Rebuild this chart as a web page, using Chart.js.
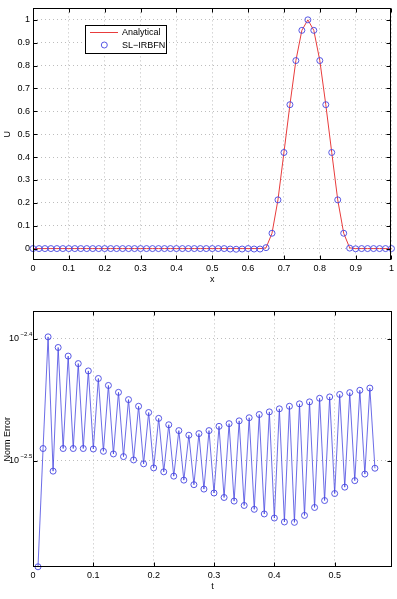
<!DOCTYPE html>
<html><head><meta charset="utf-8">
<script src="https://cdn.jsdelivr.net/npm/chart.js@4/dist/chart.umd.min.js"></script>
<style>
html,body{margin:0;padding:0;background:#fff;width:397px;height:599px;overflow:hidden}
#c1{position:absolute;left:0;top:0}
#c2{position:absolute;left:0;top:292px}
</style></head><body>
<canvas id="c1" width="397" height="292"></canvas>
<canvas id="c2" width="397" height="307"></canvas>
<script>
// ---------- top panel data ----------
const xValues = [0,0.0167,0.0333,0.05,0.0667,0.0833,0.1,0.1167,0.1333,0.15,0.1667,0.1833,0.2,0.2167,0.2333,0.25,0.2667,0.2833,0.3,0.3167,0.3333,0.35,0.3667,0.3833,0.4,0.4167,0.4333,0.45,0.4667,0.4833,0.5,0.5167,0.5333,0.55,0.5667,0.5833,0.6,0.6167,0.6333,0.65,0.6667,0.6833,0.7,0.7167,0.7333,0.75,0.7667,0.7833,0.8,0.8167,0.8333,0.85,0.8667,0.8833,0.9,0.9167,0.9333,0.95,0.9667,0.9833,1];
const analyticalU = [0,0,0,0,0,0,0,0,0,0,0,0,0,0,0,0,0,0,0,0,0,0,0,0,0,0,0,0,0,0,0,0,0,0,0,0,0,0,0,0.003,0.067,0.213,0.420,0.629,0.822,0.954,1.000,0.954,0.822,0.629,0.420,0.213,0.067,0.003,0,0,0,0,0,0,0];
const numericalU = [0,0,0,0,0,0,0,0,0,0,0,0,0,0,0,0,0,0,0,0,0,0,0,0,0,0,0,0,0,0,0,0,0,-0.002,-0.003,-0.002,0,-0.002,-0.002,0.004,0.067,0.213,0.420,0.629,0.822,0.954,1.000,0.954,0.822,0.629,0.420,0.213,0.067,0.002,-0.001,0,0,0,0,0,0];
const xTickValues = [0,0.1,0.2,0.3,0.4,0.5,0.6,0.7,0.8,0.9,1];
const xTickLabels = ['0','0.1','0.2','0.3','0.4','0.5','0.6','0.7','0.8','0.9','1'];
const uTickValues = [0,0.1,0.2,0.3,0.4,0.5,0.6,0.7,0.8,0.9,1];
const uTickLabels = ['0','0.1','0.2','0.3','0.4','0.5','0.6','0.7','0.8','0.9','1'];
const seriesNames = ['Analytical','SL\u2212IRBFN'];

// ---------- bottom panel data ----------
const tValues = [0.0083,0.0167,0.025,0.0333,0.0417,0.05,0.0583,0.0667,0.075,0.0833,0.0917,0.1,0.1083,0.1167,0.125,0.1333,0.1417,0.15,0.1583,0.1667,0.175,0.1833,0.1917,0.2,0.2083,0.2167,0.225,0.2333,0.2417,0.25,0.2583,0.2667,0.275,0.2833,0.2917,0.3,0.3083,0.3167,0.325,0.3333,0.3417,0.35,0.3583,0.3667,0.375,0.3833,0.3917,0.4,0.4083,0.4167,0.425,0.4333,0.4417,0.45,0.4583,0.4667,0.475,0.4833,0.4917,0.5,0.5083,0.5167,0.525,0.5333,0.5417,0.55,0.5583,0.5667];
const normError = [0.002591,0.003237,0.003994,0.003102,0.003915,0.003237,0.003852,0.003237,0.003798,0.003237,0.003746,0.003234,0.003693,0.003220,0.003645,0.003204,0.003598,0.003188,0.003549,0.003168,0.003505,0.003145,0.003464,0.003121,0.003426,0.003098,0.003385,0.003073,0.003348,0.003050,0.003319,0.003024,0.003329,0.002999,0.003348,0.002977,0.003375,0.002952,0.003392,0.002932,0.003410,0.002908,0.003430,0.002887,0.003451,0.002862,0.003468,0.002840,0.003488,0.002819,0.003505,0.002817,0.003521,0.002854,0.003534,0.002897,0.003558,0.002935,0.003567,0.002974,0.003584,0.003010,0.003596,0.003047,0.003612,0.003085,0.003627,0.003119];
const tTickValues = [0,0.1,0.2,0.3,0.4,0.5];
const tTickLabels = ['0','0.1','0.2','0.3','0.4','0.5'];
const errTickValues = [0.0031623,0.0039811];
const errTickBase = ['10','10'];
const errTickExponents = ['\u22122.5','\u22122.4'];

// ---------- styling ----------
const FONT = "'Liberation Sans', Arial, Helvetica, sans-serif";
Chart.defaults.font.family = FONT;
Chart.defaults.font.size = 9;
Chart.defaults.color = '#000';
const RED = 'rgb(232,60,60)';
const BLUE = 'rgb(70,70,225)';
const GRID = {color:'#bdbdbd', lineWidth:1, drawTicks:false};
const BORDER = {display:false, dash:[1,3]};

function fixTicks(values){ return function(scale){ scale.ticks = values.map(v=>({value:v})); }; }
function labelFrom(values, labels){ return function(v){ const i = values.indexOf(v); return i>=0 ? labels[i] : ''; }; }

const framePlugin = {
  id:'frame',
  afterDraw(chart){
    const {ctx, chartArea:a} = chart;
    const L = Math.round(a.left)+0.5, R = Math.round(a.right)-0.5, T = Math.round(a.top)+0.5, B = Math.round(a.bottom)-0.5;
    ctx.save();
    ctx.strokeStyle = '#000'; ctx.lineWidth = 1;
    ctx.strokeRect(L, T, R-L, B-T);
    const len = 4;
    ctx.beginPath();
    chart.scales.x.ticks.forEach(t=>{
      const p = Math.round(chart.scales.x.getPixelForValue(t.value))+0.5;
      ctx.moveTo(p,B); ctx.lineTo(p,B-len);
      ctx.moveTo(p,T); ctx.lineTo(p,T+len);
    });
    chart.scales.y.ticks.forEach(t=>{
      const p = Math.round(chart.scales.y.getPixelForValue(t.value))+0.5;
      ctx.moveTo(L,p); ctx.lineTo(L+len,p);
      ctx.moveTo(R,p); ctx.lineTo(R-len,p);
    });
    ctx.stroke();
    ctx.restore();
  }
};

const legendPlugin = {
  id:'boxLegend',
  afterDraw(chart){
    if(!chart.options.plugins.boxLegend) return;
    const ctx = chart.ctx;
    const ds = chart.data.datasets;
    ctx.save();
    ctx.fillStyle = '#fff'; ctx.strokeStyle = '#000'; ctx.lineWidth = 1;
    ctx.fillRect(85.5,25.5,81,28); ctx.strokeRect(85.5,25.5,81,28);
    ctx.strokeStyle = ds[0].borderColor; ctx.lineWidth = 1;
    ctx.beginPath(); ctx.moveTo(90,32.5); ctx.lineTo(118,32.5); ctx.stroke();
    ctx.strokeStyle = ds[1].pointBorderColor; ctx.lineWidth = 0.9;
    ctx.beginPath(); ctx.arc(104.3,45,3,0,Math.PI*2); ctx.stroke();
    ctx.fillStyle = '#000'; ctx.font = '9px ' + FONT; ctx.textBaseline = 'middle'; ctx.textAlign = 'left';
    ctx.fillText(ds[0].label, 122, 33);
    ctx.fillText(ds[1].label, 122, 45.5);
    ctx.restore();
  }
};

const expPlugin = {
  id:'expLabels',
  afterDraw(chart){
    if(!chart.options.plugins.expLabels) return;
    const ctx = chart.ctx, y = chart.scales.y;
    ctx.save();
    ctx.fillStyle = '#000'; ctx.font = '6px ' + FONT; ctx.textAlign = 'left'; ctx.textBaseline = 'middle';
    y.ticks.forEach(t=>{
      const i = errTickValues.indexOf(t.value);
      if(i<0) return;
      ctx.fillText(errTickExponents[i], 20.5, y.getPixelForValue(t.value)-4.5);
    });
    ctx.restore();
  }
};

// ---------- top chart ----------
new Chart(document.getElementById('c1'), {
  type:'scatter',
  data:{datasets:[
    {label:seriesNames[0], data:xValues.map((x,i)=>({x, y:analyticalU[i]})), showLine:true, borderColor:RED, borderWidth:1, pointRadius:0, clip:false, order:2},
    {label:seriesNames[1], data:xValues.map((x,i)=>({x, y:numericalU[i]})), showLine:false, pointRadius:3, pointBorderWidth:0.9, pointBorderColor:BLUE, pointBackgroundColor:'rgba(0,0,0,0)', borderColor:BLUE, clip:false, order:1}
  ]},
  options:{
    responsive:false, animation:false, devicePixelRatio:1,
    layout:{padding:{left:0, right:5, top:3, bottom:0}},
    plugins:{legend:{display:false}, tooltip:{enabled:false}, boxLegend:true},
    scales:{
      x:{type:'linear', min:0, max:1, afterBuildTicks:fixTicks(xTickValues),
         afterFit(s){ s.height = 32; },
         grid:GRID, border:BORDER,
         ticks:{padding:3, maxRotation:0, autoSkip:false, callback:labelFrom(xTickValues,xTickLabels)},
         title:{display:true, text:'x', font:{size:9}, padding:{top:0,bottom:7}}},
      y:{type:'linear', min:-0.05, max:1.05, afterBuildTicks:fixTicks(uTickValues),
         afterFit(s){ s.width = 33; },
         grid:GRID, border:BORDER,
         ticks:{padding:3, autoSkip:false, callback:labelFrom(uTickValues,uTickLabels)},
         title:{display:true, text:'U', font:{size:9}, padding:{top:2,bottom:0}}}
    }
  },
  plugins:[framePlugin, legendPlugin]
});

// ---------- bottom chart ----------
new Chart(document.getElementById('c2'), {
  type:'scatter',
  data:{datasets:[
    {label:'Norm Error', data:tValues.map((t,i)=>({x:t, y:normError[i]})), showLine:true, borderColor:BLUE, borderWidth:0.8, pointRadius:3, pointBorderWidth:0.9, pointBorderColor:BLUE, pointBackgroundColor:'rgba(0,0,0,0)', clip:false}
  ]},
  options:{
    responsive:false, animation:false, devicePixelRatio:1,
    layout:{padding:{left:0, right:5, top:17, bottom:0}},
    plugins:{legend:{display:false}, tooltip:{enabled:false}, expLabels:true},
    scales:{
      x:{type:'linear', min:0, max:0.595, afterBuildTicks:fixTicks(tTickValues),
         afterFit(s){ s.height = 32; },
         grid:GRID, border:BORDER,
         ticks:{padding:3, maxRotation:0, autoSkip:false, callback:labelFrom(tTickValues,tTickLabels)},
         title:{display:true, text:'t', font:{size:9}, padding:{top:0,bottom:7}}},
      y:{type:'logarithmic', min:0.00259, max:0.00419, afterBuildTicks:fixTicks(errTickValues),
         afterFit(s){ s.width = 33; },
         grid:GRID, border:BORDER,
         ticks:{padding:14, autoSkip:false, callback:labelFrom(errTickValues,errTickBase)},
         title:{display:true, text:'Norm Error', font:{size:9}, padding:{top:2,bottom:0}}}
    }
  },
  plugins:[framePlugin, expPlugin]
});
</script>
</body></html>
